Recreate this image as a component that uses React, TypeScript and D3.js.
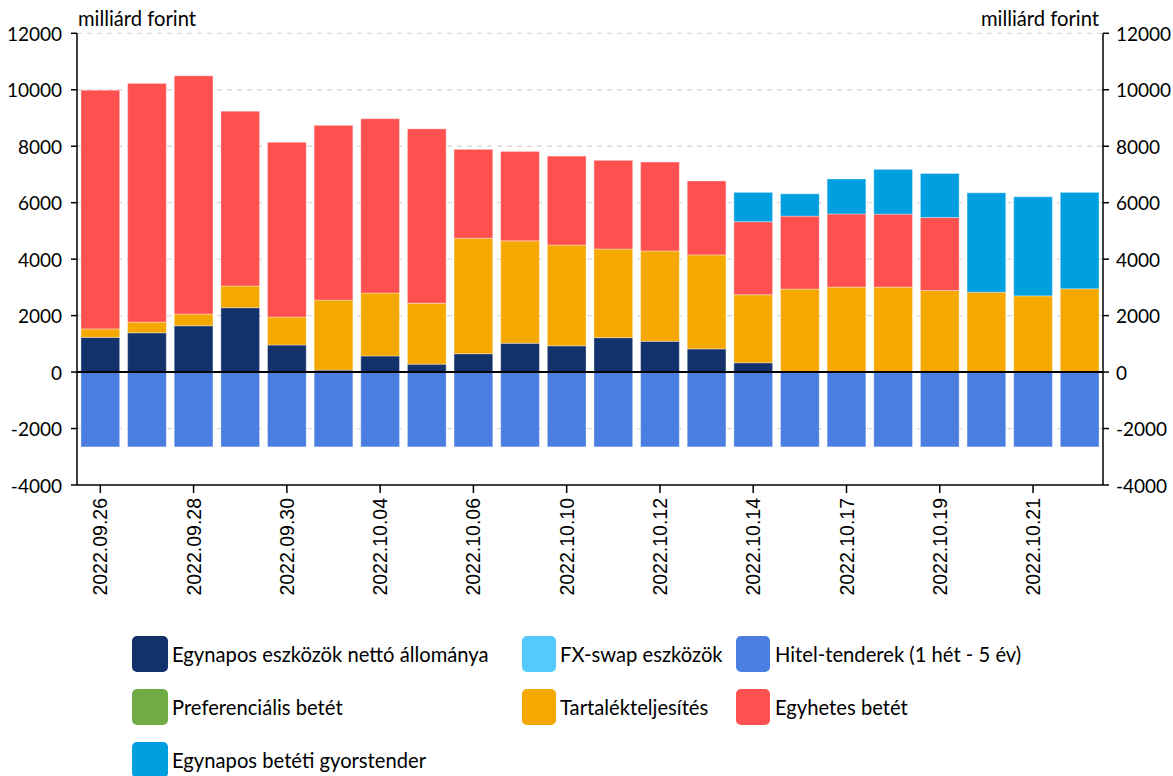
import React from 'react';
import * as d3 from 'd3';

const dates = [
  '2022.09.26', '2022.09.27', '2022.09.28', '2022.09.29', '2022.09.30',
  '2022.10.03', '2022.10.04', '2022.10.05', '2022.10.06', '2022.10.07',
  '2022.10.10', '2022.10.11', '2022.10.12', '2022.10.13', '2022.10.14',
  '2022.10.15', '2022.10.17', '2022.10.18', '2022.10.19', '2022.10.20',
  '2022.10.21', '2022.10.24',
];
const labeledDates = ['2022.09.26', '2022.09.28', '2022.09.30', '2022.10.04', '2022.10.06', '2022.10.10', '2022.10.12', '2022.10.14', '2022.10.17', '2022.10.19', '2022.10.21'];

const egynaposEszkozok = [1230, 1390, 1640, 2280, 960, 70, 570, 280, 650, 1020, 930, 1220, 1090, 820, 330, 0, 0, 0, 0, 0, 0, 0];
const fxSwap = [0, 0, 0, 0, 0, 0, 0, 0, 0, 0, 0, 0, 0, 0, 0, 0, 0, 0, 0, 0, 0, 0];
const hitelTenderek = [-2650, -2650, -2650, -2650, -2650, -2650, -2650, -2650, -2650, -2650, -2650, -2650, -2650, -2650, -2650, -2650, -2650, -2650, -2650, -2650, -2650, -2650];
const preferencialis = [0, 0, 0, 0, 0, 0, 0, 0, 0, 0, 0, 0, 0, 0, 0, 0, 0, 0, 0, 0, 0, 0];
const tartalek = [300, 380, 415, 770, 990, 2480, 2230, 2160, 4090, 3630, 3570, 3140, 3200, 3330, 2410, 2940, 3010, 3010, 2890, 2830, 2700, 2950];
const egyhetes = [8455, 8455, 8440, 6190, 6190, 6190, 6175, 6175, 3150, 3165, 3150, 3140, 3150, 2620, 2585, 2585, 2590, 2585, 2585, 0, 0, 0];
const gyorstender = [0, 0, 0, 0, 0, 0, 0, 0, 0, 0, 0, 0, 0, 0, 1040, 790, 1240, 1585, 1560, 3520, 3510, 3415];

const yTicks = [-4000, -2000, 0, 2000, 4000, 6000, 8000, 10000, 12000];

const seriesKeys = ['eszk', 'fx', 'hitel', 'pref', 'tart', 'egyh', 'gyors'];
const seriesNames: Record<string, string> = {
  eszk: 'Egynapos eszközök nettó állománya',
  fx: 'FX-swap eszközök',
  hitel: 'Hitel-tenderek (1 hét - 5 év)',
  pref: 'Preferenciális betét',
  tart: 'Tartalékteljesítés',
  egyh: 'Egyhetes betét',
  gyors: 'Egynapos betéti gyorstender',
};
const colors: Record<string, string> = {
  eszk: '#13326b',
  fx: '#55cbfd',
  hitel: '#4a7ee0',
  pref: '#6fac46',
  tart: '#f5a800',
  egyh: '#ff5050',
  gyors: '#009fe0',
};

const legendOrder = [
  ['eszk', 'fx', 'hitel'],
  ['pref', 'tart', 'egyh'],
  ['gyors'],
];

const W = 1173;
const H = 776;
const left = 77;
const right = 1103;
const top = 33.3;
const bottom = 485;

export default function App() {
  const rows = dates.map((d, i) => ({
    date: d,
    eszk: egynaposEszkozok[i],
    fx: fxSwap[i],
    hitel: hitelTenderek[i],
    pref: preferencialis[i],
    tart: tartalek[i],
    egyh: egyhetes[i],
    gyors: gyorstender[i],
  }));
  const stack = d3.stack<any>().keys(seriesKeys).offset(d3.stackOffsetDiverging);
  const layers = stack(rows);

  const x = d3.scaleBand<string>().domain(dates).range([left, right]).paddingInner(0.17).paddingOuter(0.085);
  const y = d3.scaleLinear().domain([-4000, 12000]).range([bottom, top]);

  const font = 'Lato, "Open Sans", sans-serif';
  const legendCols = [
    { sx: 132, sw: 36, tx: 172 },
    { sx: 522, sw: 34, tx: 560 },
    { sx: 736, sw: 34, tx: 775 },
  ];
  const legendRows = [636, 689, 742];
  const textSize = 20.2;
  const tickSize = 19;

  return (
    <svg width={W} height={H} style={{ position: 'absolute', left: 0, top: 0, background: '#fff' }}>
      {/* grid */}
      {yTicks.filter((t) => t !== 0 && t !== -4000).map((t) => (
        <line key={'g' + t} x1={left} x2={right} y1={y(t)} y2={y(t)} stroke="#d9d9d9" strokeWidth={1.3} strokeDasharray="5,5" />
      ))}
      {/* bars */}
      {layers.map((layer) => (
        <g key={layer.key} fill={colors[layer.key]}>
          {layer.map((d, i) => {
            const h = Math.abs(y(d[0]) - y(d[1]));
            if (h < 0.01) return null;
            return (
              <rect
                key={i}
                x={x(dates[i])}
                y={Math.min(y(d[0]), y(d[1]))}
                width={x.bandwidth()}
                height={h}
                stroke="#ffffff"
                strokeOpacity={0.35}
                strokeWidth={1}
              />
            );
          })}
        </g>
      ))}
      {/* zero line */}
      <line x1={left} x2={right} y1={y(0)} y2={y(0)} stroke="#000" strokeWidth={2} />
      {/* axes */}
      <line x1={left} x2={left} y1={top} y2={bottom} stroke="#000" strokeWidth={1.5} />
      <line x1={right} x2={right} y1={top} y2={bottom} stroke="#000" strokeWidth={1.5} />
      <line x1={left} x2={right} y1={bottom} y2={bottom} stroke="#000" strokeWidth={1.5} />
      {yTicks.map((t) => (
        <g key={'t' + t}>
          <line x1={left - 6} x2={left} y1={y(t)} y2={y(t)} stroke="#000" strokeWidth={1.5} />
          <line x1={right} x2={right + 6} y1={y(t)} y2={y(t)} stroke="#000" strokeWidth={1.5} />
          <text x={62} y={y(t)} textAnchor="end" dominantBaseline="central" fontFamily={font} fontSize={tickSize} fill="#000">{t}</text>
          <text x={1116} y={y(t)} textAnchor="start" dominantBaseline="central" fontFamily={font} fontSize={tickSize} fill="#000">{t}</text>
        </g>
      ))}
      <text x={78} y={26} fontFamily={font} fontSize={textSize} fill="#000">milliárd forint</text>
      <text x={1099} y={26} textAnchor="end" fontFamily={font} fontSize={textSize} fill="#000">milliárd forint</text>
      {/* x ticks and labels */}
      {labeledDates.map((d) => {
        const cx = (x(d) as number) + x.bandwidth() / 2;
        return (
          <g key={'x' + d}>
            <line x1={cx} x2={cx} y1={bottom} y2={bottom + 8} stroke="#000" strokeWidth={1.5} />
            <text
              transform={`translate(${cx},${bottom + 13}) rotate(-90)`}
              textAnchor="end"
              dominantBaseline="central"
              fontFamily='"Liberation Sans", Arial, sans-serif'
              fontSize={19.5}
              fill="#000"
            >
              {d}
            </text>
          </g>
        );
      })}
      {/* legend */}
      {legendOrder.map((row, ri) =>
        row.map((key, ci) => {
          const c = legendCols[ci];
          const ly = legendRows[ri];
          return (
            <g key={'l' + key}>
              <rect x={c.sx} y={ly} width={c.sw} height={36} rx={5} fill={colors[key]} />
              <text x={c.tx} y={ly + 18} dominantBaseline="central" fontFamily={font} fontSize={textSize} fill="#000">
                {seriesNames[key]}
              </text>
            </g>
          );
        })
      )}
    </svg>
  );
}
